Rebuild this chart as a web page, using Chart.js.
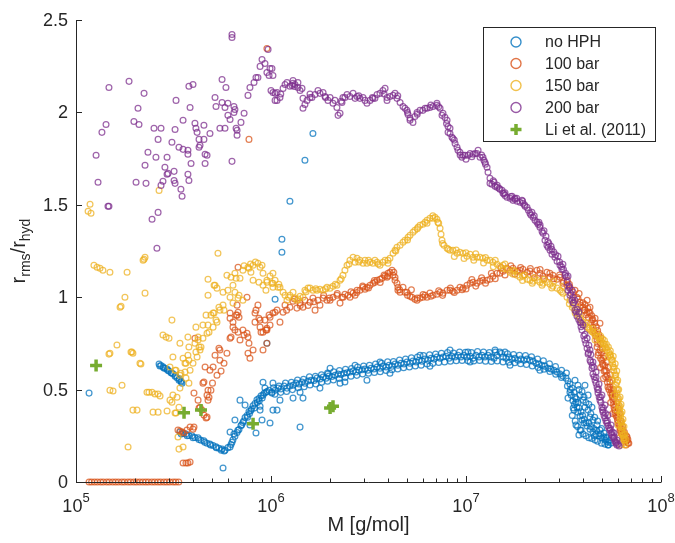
<!DOCTYPE html>
<html><head><meta charset="utf-8">
<script src="https://cdn.jsdelivr.net/npm/chart.js@4.4.1/dist/chart.umd.min.js"></script>
<style>html,body{margin:0;padding:0;background:#fff;}#wrap{width:675px;height:543px;}</style>
</head><body><div id="wrap"><canvas id="c" width="675" height="543"></canvas></div>
<script>
// ---------- DATA (x = log10 of M [g/mol], y = r_rms/r_hyd) ----------
const seriesNames = ['no HPH', '100 bar', '150 bar', '200 bar', 'Li et al. (2011)'];

const noHph = [
[5.067,0.481],
[5.426,0.638],[5.436,0.63],[5.446,0.624],[5.456,0.615],[5.467,0.612],[5.477,0.601],[5.487,0.593],[5.497,0.586],[5.508,0.572],[5.518,0.564],[5.528,0.55],[5.538,0.547],[5.544,0.534],
[5.43,0.628],[5.45,0.617],[5.47,0.605],[5.49,0.59],[5.51,0.577],[5.53,0.558],[5.54,0.541],
[5.533,0.271],[5.549,0.263],[5.564,0.26],[5.579,0.252],[5.595,0.25],[5.61,0.241],[5.626,0.239],[5.641,0.226],[5.656,0.223],[5.672,0.21],[5.687,0.206],[5.703,0.198],[5.718,0.19],[5.733,0.183],[5.749,0.179],[5.764,0.172],[5.779,0.186],[5.795,0.203],[5.805,0.229],[5.815,0.247],[5.826,0.268],[5.836,0.284],[5.846,0.305],[5.856,0.322],[5.867,0.349],[5.877,0.36],[5.887,0.381],[5.897,0.387],[5.908,0.413],[5.918,0.425],[5.928,0.445],[5.938,0.452],[5.949,0.467],
[5.54,0.26],[5.57,0.25],[5.6,0.24],[5.63,0.23],[5.66,0.215],[5.69,0.2],[5.72,0.185],[5.745,0.172],[5.76,0.168],
[5.79,0.19],[5.8,0.215],[5.81,0.26],[5.83,0.28],[5.85,0.31],[5.86,0.33],[5.88,0.35],[5.89,0.37],[5.9,0.395],[5.915,0.4],[5.93,0.43],[5.94,0.44],[5.955,0.455],[5.965,0.48],[5.98,0.49],
[5.754,0.076],[5.979,0.751],[6.005,0.486],[6.149,0.297],[5.995,0.319],[5.841,0.443],[5.923,0.265],[6.021,0.989],[6.215,1.886],[6.174,1.741],[6.097,1.519],[6.056,1.314],[6.056,1.243],
[5.944,0.389],[5.867,0.416],[5.815,0.335],[5.892,0.308],[5.79,0.27],[5.954,0.335],[5.969,0.508],[6.046,0.443],[6.031,0.389],[5.959,0.54],[6.01,0.535],[5.944,0.41],[6.01,0.389],[6.113,0.454],[6.164,0.454],[6.354,0.535],[6.492,0.551],[6.292,0.584],
[5.959,0.47],[5.974,0.486],[5.99,0.497],[6.005,0.481],[6.021,0.497],[6.036,0.508],[6.051,0.503],[6.067,0.519],[6.082,0.508],[6.097,0.519],[6.113,0.524],[6.128,0.535],[6.144,0.53],[6.159,0.541],[6.174,0.535],[6.19,0.546],[6.205,0.551],[6.221,0.549],[6.236,0.562],[6.251,0.557],[6.267,0.568],[6.282,0.562],[6.297,0.573],[6.313,0.571],[6.328,0.578],[6.344,0.584],[6.359,0.582],[6.374,0.589],[6.39,0.591],[6.405,0.595],[6.421,0.6],[6.436,0.595],[6.451,0.605],[6.467,0.607],[6.482,0.611],[6.497,0.605],[6.513,0.616],[6.528,0.611],[6.544,0.622],[6.559,0.616],[6.574,0.627],[6.59,0.622],[6.605,0.632],[6.621,0.627],[6.636,0.638],[6.651,0.632],[6.667,0.643],[6.682,0.638],[6.697,0.649],[6.713,0.643],[6.728,0.654],[6.744,0.649],[6.759,0.659],[6.774,0.654],[6.79,0.665],[6.805,0.659],[6.821,0.67],[6.836,0.665],[6.851,0.676],[6.867,0.67],[6.882,0.676],[6.897,0.681],[6.913,0.67],[6.928,0.681],[6.944,0.676],[6.959,0.686],[6.974,0.676],[6.99,0.686],[7.005,0.676],[7.021,0.681],[7.036,0.67],[7.051,0.686],[7.067,0.676],[7.082,0.686],[7.097,0.676],[7.113,0.686],[7.128,0.676],[7.144,0.67],[7.159,0.686],[7.174,0.703],[7.19,0.676],[7.205,0.67],[7.221,0.676],[7.236,0.665],[7.251,0.67],[7.267,0.659],[7.282,0.665],[7.297,0.659],[7.313,0.665],[7.328,0.659],[7.344,0.654],[7.359,0.643],[7.374,0.638],[7.39,0.632],[7.405,0.627],[7.421,0.616],[7.436,0.611],[7.451,0.605],[7.467,0.595],[7.482,0.584],[7.497,0.573],[7.513,0.562],[7.523,0.546],[7.533,0.53],[7.544,0.508],[7.554,0.486],[7.559,0.459],[7.564,0.432],[7.569,0.405],[7.574,0.378],[7.585,0.357],[7.595,0.335],[7.605,0.319],[7.621,0.303],[7.636,0.286],[7.651,0.27],[7.667,0.259],[7.682,0.249],[7.697,0.238],[7.713,0.227],[7.728,0.216],[7.744,0.211],
[6.013,0.51],[6.041,0.52],[6.074,0.535],[6.105,0.54],[6.136,0.552],[6.167,0.556],[6.197,0.57],[6.228,0.572],[6.259,0.58],[6.29,0.59],[6.321,0.596],[6.351,0.603],[6.382,0.61],[6.413,0.614],[6.444,0.622],[6.475,0.628],[6.505,0.632],[6.536,0.638],[6.567,0.642],[6.598,0.65],[6.628,0.652],[6.659,0.66],[6.69,0.665],[6.72,0.672],[6.751,0.676],[6.782,0.684],[6.813,0.688],[6.844,0.692],[6.874,0.697],[6.905,0.7],[6.936,0.698],[6.967,0.704],[6.997,0.702],[7.028,0.7],[7.059,0.706],[7.09,0.703],[7.12,0.7],[7.151,0.703],[7.182,0.697],[7.213,0.694],[7.244,0.69],[7.274,0.686],[7.305,0.684],[7.336,0.678],[7.367,0.665],[7.397,0.656],[7.428,0.64],[7.459,0.625],[7.49,0.605],[7.515,0.59],
[6.02,0.475],[6.05,0.485],[6.08,0.49],[6.11,0.5],[6.14,0.51],[6.17,0.515],[6.2,0.525],[6.23,0.53],[6.26,0.54],[6.29,0.545],[6.32,0.552],[6.35,0.56],[6.38,0.565],[6.41,0.572],[6.44,0.577],[6.47,0.584],[6.5,0.588],[6.53,0.592],[6.56,0.597],[6.59,0.603],[6.62,0.607],[6.65,0.612],[6.68,0.618],[6.71,0.622],[6.74,0.628],[6.77,0.632],[6.8,0.638],[6.83,0.642],[6.86,0.647],[6.89,0.65],[6.92,0.654],[6.95,0.656],[6.98,0.658],[7.01,0.656],[7.04,0.655],[7.07,0.658],[7.1,0.654],[7.13,0.652],[7.16,0.655],[7.19,0.65],[7.22,0.648],[7.25,0.645],[7.28,0.64],[7.31,0.636],[7.34,0.628],[7.37,0.62],[7.4,0.61],[7.43,0.598],[7.46,0.583],[7.49,0.566],
[7.559,0.551],[7.574,0.524],[7.585,0.47],[7.6,0.443],[7.61,0.405],[7.626,0.389],[7.636,0.351],[7.61,0.524],[7.646,0.405],[7.651,0.335],[7.672,0.308],[7.687,0.281],[7.708,0.265],[7.718,0.243],[7.59,0.281],[7.564,0.308],[7.579,0.254],[7.662,0.227],[7.728,0.2],[7.533,0.486],[7.554,0.389],[7.523,0.454],[7.626,0.47],
[7.52,0.52],[7.535,0.5],[7.54,0.47],[7.548,0.44],[7.556,0.42],[7.566,0.45],[7.575,0.43],[7.58,0.4],[7.59,0.38],[7.598,0.36],[7.606,0.34],[7.615,0.32],[7.63,0.32],[7.64,0.3],[7.655,0.29],[7.67,0.28],[7.69,0.26],[7.705,0.245],[7.72,0.235],[7.735,0.225],[7.545,0.36],[7.56,0.33],[7.572,0.3],[7.585,0.28],[7.6,0.26],[7.615,0.25],[7.63,0.24],[7.645,0.235],[7.66,0.25],[7.675,0.22],[7.695,0.21],[7.712,0.205],[7.55,0.4],[7.58,0.5],[7.595,0.49],[7.605,0.46],[7.615,0.43],[7.63,0.42],[7.64,0.37],[7.66,0.35],[7.675,0.33],[7.695,0.29],[7.73,0.2],
[6.303,0.616],[6.431,0.632],[6.559,0.649],[6.764,0.686],[6.918,0.714],[7.01,0.703],[7.149,0.714],[7.2,0.703],
[6.149,0.486],[6.251,0.508],[6.379,0.541],[6.61,0.589],[6.815,0.627],[7.021,0.649],[7.226,0.632],[7.379,0.605]
];

const bar100 = [
[5.067,0],[5.08,0],[5.095,0],[5.11,0],[5.126,0],[5.14,0],[5.157,0],[5.171,0],[5.188,0],[5.203,0],[5.218,0],[5.235,0],[5.249,0],[5.266,0],[5.28,0],[5.297,0],[5.311,0],[5.327,0],[5.343,0],[5.358,0],[5.372,0],[5.389,0],[5.404,0],[5.42,0],[5.434,0],[5.451,0],[5.466,0],[5.481,0],[5.498,0],[5.512,0],[5.527,0],
[5.549,0.103],[5.564,0.103],[5.574,0.103],[5.585,0.108],
[5.523,0.281],[5.533,0.276],[5.544,0.27],[5.554,0.265],
[5.6,0.286],[5.605,0.297],[5.631,0.4],[5.646,0.389],[5.656,0.362],[5.667,0.346],[5.605,0.481],[5.651,0.535],[5.677,0.497],[5.682,0.459],[5.677,0.443],[5.692,0.497],[5.636,0.405],[5.672,0.351],[5.672,0.47],[5.656,0.541],[5.687,0.605],[5.662,0.622],[5.703,0.622],[5.723,0.578],[5.738,0.659],[5.774,0.697],[5.738,0.714],[5.79,0.778],[5.815,0.822],[5.826,0.903],[5.805,0.865],[5.841,0.768],[5.856,0.822],[5.877,0.805],[5.882,0.697],[5.892,0.67],[5.908,0.714],[5.918,0.865],[5.918,0.914],[5.944,0.876],[5.959,0.811],[5.979,0.832],[5.995,0.849],[6.01,0.914],[6.031,0.93],[5.979,0.751],[5.959,0.714],[5.79,0.914],[5.831,0.919],[5.826,0.957],[5.877,1.0],[5.569,0.281],[5.585,0.297],[5.626,0.443],[5.831,1.162],[5.887,1.854],[5.979,2.346],
[5.79,0.886],[5.821,0.903],[5.836,0.892],[5.805,0.838],[5.831,0.811],[5.862,0.795],[5.882,0.784],[5.795,0.784],[5.933,0.957],[5.923,0.93],[5.938,0.886],[5.974,0.822],[5.949,0.811],[5.99,0.903],[5.887,0.751],[5.733,0.724],[5.61,0.778],[5.713,0.686],[5.744,0.6],[5.759,0.643],[5.7,0.535],
[5.944,0.838],[5.969,0.876],[5.979,0.822],[5.995,0.892],[6.021,0.919],[6.046,0.865],[6.062,0.919],[6.072,0.957],[6.097,0.946],[6.113,0.978],[6.133,0.941],[6.149,0.968],[6.164,0.946],[6.174,0.984],[6.2,0.973],[6.215,0.995],[6.226,0.93],[6.241,0.984],[6.251,0.957],[6.267,0.995],[6.287,0.984],[6.303,0.984],[6.318,1.0],[6.338,1.011],[6.354,0.968],[6.364,1.0],[6.379,1.016],[6.395,1.011],[6.405,1.0],[6.421,1.022],[6.431,1.011],[6.441,1.038],[6.456,1.038],[6.472,1.054],[6.482,1.043],[6.492,1.054],[6.508,1.065],[6.523,1.076],[6.533,1.081],[6.544,1.092],[6.559,1.097],[6.569,1.103],[6.585,1.114],[6.595,1.108],[6.6,1.13],[6.61,1.135],[6.621,1.146],[6.626,1.119],[6.636,1.108],[6.636,1.092],[6.646,1.076],[6.651,1.054],[6.651,1.038],[6.662,1.027],[6.677,1.054],[6.687,1.027],[6.697,1.027],[6.713,1.005],[6.723,1.0],[6.738,0.989],[6.749,0.984],[6.764,0.995],[6.779,1.0],[6.79,1.011],[6.8,1.0],[6.815,1.022],[6.831,1.011],[6.851,1.016],[6.867,1.027],[6.882,1.022],[6.903,1.038],[6.918,1.038],[6.933,1.032],[6.954,1.038],[6.969,1.054],[6.985,1.049],[7.005,1.065],[7.021,1.076],[7.036,1.081],[7.056,1.076],[7.072,1.086],[7.087,1.092],[7.108,1.092],[7.123,1.097],[7.138,1.114],[7.159,1.13],[7.174,1.13],[7.19,1.141],[7.21,1.157],[7.226,1.146],[7.241,1.157],[7.262,1.141],[7.277,1.146],[7.292,1.151],[7.313,1.135],[7.328,1.141],[7.344,1.124],[7.364,1.146],[7.379,1.13],[7.395,1.114],[7.415,1.135],[7.431,1.108],[7.446,1.119],[7.467,1.097],[7.482,1.108],[7.497,1.076],[7.518,1.065],[7.533,1.054],[7.549,1.027],[7.559,1.038],[7.569,1.0],[7.585,0.973],[7.6,0.946],[7.61,0.93],[7.621,0.914],[7.636,0.914],[7.646,0.876],[7.651,0.838],[7.662,0.805],[7.672,0.768],[7.672,0.73],[7.677,0.686],[7.687,0.714],[7.697,0.659],[7.703,0.632],[7.713,0.605],[7.723,0.578],[7.728,0.514],[7.738,0.514],[7.749,0.47],[7.754,0.443],[7.759,0.405],[7.764,0.373],[7.774,0.351],[7.779,0.319],[7.79,0.292],[7.795,0.265],[7.805,0.243],[7.815,0.222],[7.826,0.243],[7.831,0.211],[7.821,0.2],
[7.636,0.946],[7.662,0.886],[7.687,0.859],[7.621,0.984],[7.705,0.56],[7.69,0.62],[7.742,0.43],[7.752,0.37],
[7.575,0.99],[7.59,0.955],[7.605,0.93],[7.615,0.905],[7.628,0.89],[7.64,0.86],[7.655,0.82],[7.665,0.79],[7.675,0.75],[7.68,0.7],[7.69,0.67],[7.7,0.64],[7.708,0.6],[7.716,0.57],[7.725,0.54],[7.733,0.5],[7.742,0.48],[7.75,0.46],[7.757,0.42],[7.763,0.39],[7.77,0.36],[7.777,0.335],[7.785,0.31],[7.79,0.28],[7.8,0.26],[7.81,0.235],[7.82,0.22],[7.83,0.23],[7.835,0.21],
[7.6,0.97],[7.625,0.94],[7.645,0.9],[7.66,0.86],[7.675,0.82],[7.69,0.78],[7.7,0.72],[7.71,0.68],[7.72,0.65],[7.73,0.62],[7.74,0.58],[7.748,0.55],[7.756,0.5],[7.765,0.47],[7.773,0.43],[7.78,0.4],[7.786,0.37],[7.795,0.33],[7.803,0.3],[7.812,0.27],[7.822,0.25],
[7.58,1.02],[7.61,0.96],[7.63,0.92],[7.65,0.88],[7.668,0.84],[7.68,0.8],[7.69,0.75],[7.695,0.7],[7.705,0.67],[7.712,0.63],[7.72,0.6],[7.73,0.56],[7.738,0.54],[7.745,0.5],[7.752,0.48],[7.76,0.45],[7.768,0.41],[7.775,0.38],[7.782,0.35],[7.79,0.32],[7.798,0.29],[7.805,0.27],[7.815,0.245],[7.825,0.225],
[7.0,1.045],[7.05,1.06],[7.1,1.075],[7.15,1.1],[7.2,1.12],[7.25,1.125],[7.3,1.12],[7.35,1.105],[7.4,1.1],[7.45,1.1],[7.5,1.085],[7.53,1.07],
[7.03,1.095],[7.08,1.105],[7.13,1.13],[7.18,1.16],[7.23,1.17],[7.28,1.16],[7.33,1.155],[7.38,1.15],[7.43,1.13],[7.48,1.12],[7.52,1.09],
[6.08,0.93],[6.15,0.955],[6.22,0.975],[6.3,0.995],[6.37,1.0],[6.44,1.025],[6.5,1.05],[6.56,1.08],[6.6,1.115],[6.66,1.04],[6.7,1.01],[6.75,0.995],[6.82,1.005],[6.88,1.01],[6.94,1.025],[6.98,1.04],[6.12,0.99],[6.19,0.955],[6.27,1.01],[6.34,1.02],[6.41,1.03],[6.47,1.06],[6.53,1.09],[6.58,1.12],[6.63,1.135],[6.72,1.04],[6.78,1.015],[6.86,1.035],[6.92,1.05]
];

const bar150 = [
[5.072,1.503],[5.062,1.465],[5.077,1.454],[5.426,1.578],[5.728,1.238],[5.354,1.216],[5.344,1.2],[5.349,1.205],[5.092,1.173],[5.108,1.162],[5.123,1.157],[5.138,1.146],[5.174,1.135],[5.262,1.135],[5.226,0.946],[5.251,1.0],[5.354,1.022],[5.21,0.741],[5.174,0.697],[5.328,0.643],[5.287,0.703],[5.292,0.697],[5.174,0.497],[5.19,0.492],[5.236,0.524],[5.364,0.486],[5.374,0.486],[5.39,0.486],[5.405,0.476],[5.421,0.476],[5.431,0.465],[5.292,0.389],[5.313,0.389],[5.395,0.378],[5.421,0.378],[5.267,0.189],
[5.492,0.876],[5.446,0.795],[5.462,0.784],[5.477,0.778],[5.497,0.676],[5.482,0.622],[5.508,0.605],[5.497,0.47],[5.492,0.432],[5.482,0.443],[5.508,0.373],[5.528,0.405],[5.513,0.373],[5.518,0.459],[5.533,0.508],[5.533,0.578],[5.559,0.595],[5.549,0.67],[5.574,0.686],[5.533,0.751],[5.559,0.643],[5.585,0.605],[5.6,0.643],[5.621,0.676],[5.636,0.714],[5.61,0.751],[5.626,0.784],[5.651,0.778],[5.672,0.805],[5.677,0.849],[5.703,0.838],[5.723,0.865],[5.677,1.011],[5.703,0.914],[5.738,0.93],[5.754,0.957],[5.79,1.0],[5.815,1.027],[5.805,0.968],[5.713,1.065],[5.723,1.049],[5.774,1.119],[5.815,1.13],[5.841,1.103],[5.856,1.146],[5.882,1.162],[5.908,1.173],[5.933,1.184],[5.954,1.173],[5.959,1.13],[5.979,1.092],[6.005,1.076],[6.01,1.13],[5.549,0.189],[5.528,0.178],[5.467,0.384],
[5.677,1.097],[5.708,1.065],[5.754,1.027],[5.779,1.038],[5.795,1.108],[5.821,1.103],[5.805,1.065],[5.836,1.011],[5.831,0.995],[5.856,0.984],[5.887,1.157],[5.897,1.135],[5.908,1.092],[5.938,1.081],[5.959,1.065],[5.974,1.038],[6.01,1.054],[5.733,0.946],[5.759,0.93],[5.708,0.914],[5.692,0.903],[5.667,0.903],[5.718,0.876],[5.651,0.849],[5.682,0.811],[5.615,0.838],[5.574,0.784],[5.626,0.768],[5.641,0.73],[5.579,0.73],[5.231,0.951],[5.169,0.692],[5.282,0.703],[5.333,0.638],[5.513,0.605],[5.538,0.589],[5.564,0.562],[5.579,0.535],[5.523,0.243],[5.564,0.643],[5.579,0.659],[5.615,0.703],[5.631,0.73],[5.862,1.17],[5.92,1.19],[5.895,1.18],
[5.944,1.162],[5.979,1.081],[5.995,1.114],[6.01,1.076],[6.021,1.092],[6.036,1.054],[6.046,1.054],[6.062,1.027],[6.072,1.011],[6.082,0.984],[6.097,1.011],[6.113,1.027],[6.123,0.995],[6.133,0.984],[6.149,1.005],[6.164,1.0],[6.174,1.038],[6.19,1.049],[6.2,1.049],[6.215,1.038],[6.236,1.038],[6.251,1.043],[6.267,1.038],[6.287,1.054],[6.303,1.049],[6.318,1.059],[6.338,1.065],[6.354,1.092],[6.369,1.119],[6.379,1.146],[6.39,1.173],[6.405,1.2],[6.421,1.216],[6.431,1.189],[6.441,1.211],[6.456,1.2],[6.472,1.184],[6.482,1.2],[6.492,1.184],[6.508,1.189],[6.523,1.184],[6.533,1.2],[6.544,1.189],[6.559,1.173],[6.574,1.189],[6.585,1.2],[6.6,1.184],[6.61,1.211],[6.626,1.238],[6.636,1.254],[6.646,1.27],[6.662,1.281],[6.677,1.297],[6.687,1.308],[6.703,1.324],[6.713,1.335],[6.728,1.351],[6.738,1.362],[6.754,1.378],[6.764,1.389],[6.779,1.395],[6.79,1.405],[6.8,1.416],[6.815,1.427],[6.831,1.427],[6.841,1.432],[6.851,1.422],[6.856,1.405],[6.867,1.373],[6.872,1.341],[6.877,1.308],[6.887,1.281],[6.903,1.265],[6.918,1.254],[6.933,1.254],[6.954,1.238],[6.969,1.243],[6.985,1.238],[7.005,1.222],[7.021,1.232],[7.036,1.216],[7.056,1.216],[7.072,1.216],[7.087,1.211],[7.108,1.2],[7.123,1.2],[7.138,1.189],[7.159,1.178],[7.174,1.168],[7.19,1.173],[7.21,1.151],[7.226,1.135],[7.241,1.146],[7.262,1.119],[7.277,1.108],[7.292,1.114],[7.313,1.097],[7.328,1.092],[7.344,1.086],[7.364,1.092],[7.379,1.081],[7.395,1.076],[7.415,1.081],[7.431,1.07],[7.446,1.059],[7.467,1.049],[7.482,1.038],[7.497,1.022],[7.518,1.0],[7.533,0.984],[7.549,0.957],[7.559,0.93],[7.569,0.941],[7.585,0.886],[7.6,0.865],[7.621,0.838],[7.636,0.822],[7.651,0.811],[7.672,0.789],[7.687,0.768],[7.703,0.751],[7.713,0.73],[7.723,0.714],[7.738,0.686],[7.749,0.659],[7.754,0.622],[7.764,0.578],[7.769,0.524],[7.774,0.481],[7.779,0.443],[7.785,0.405],[7.79,0.373],[7.79,0.335],[7.795,0.297],[7.8,0.265],[7.805,0.238],[7.81,0.211],[7.795,0.2],
[7.749,0.551],[7.759,0.47],[7.774,0.389],[7.779,0.308],[7.785,0.238],[7.728,0.676],[7.703,0.724],[7.662,0.768],
[7.53,0.965],[7.545,0.945],[7.56,0.915],[7.575,0.9],[7.59,0.875],[7.61,0.85],[7.63,0.83],[7.645,0.815],[7.66,0.8],[7.68,0.78],[7.695,0.76],[7.71,0.745],[7.72,0.725],[7.733,0.7],[7.743,0.675],[7.752,0.64],[7.758,0.6],[7.766,0.56],[7.771,0.505],[7.776,0.46],[7.782,0.42],[7.787,0.39],[7.792,0.355],[7.795,0.32],[7.8,0.28],[7.806,0.25],[7.812,0.225],[7.815,0.2],
[7.7,0.775],[7.72,0.745],[7.74,0.71],[7.755,0.68],[7.765,0.64],[7.773,0.6],[7.778,0.55],[7.783,0.5],[7.79,0.46],[7.795,0.42],[7.8,0.38],[7.805,0.34],[7.81,0.3],[7.815,0.26],[7.82,0.23],
[7.74,0.69],[7.75,0.66],[7.76,0.62],[7.768,0.58],[7.774,0.54],[7.778,0.5],[7.784,0.45],[7.79,0.41],[7.794,0.37],[7.798,0.33],[7.802,0.3],[7.808,0.26],[7.812,0.24],[7.58,0.91],[7.62,0.86],[7.65,0.83],[7.67,0.81],[7.69,0.79],[7.71,0.765],[7.73,0.73],
[6.95,1.255],[7.0,1.24],[7.05,1.235],[7.1,1.215],[7.15,1.2],[7.2,1.18],[7.25,1.14],[7.3,1.12],[7.35,1.105],[7.4,1.095],[7.45,1.085],[7.5,1.06],
[6.94,1.22],[6.99,1.21],[7.04,1.2],[7.09,1.185],[7.14,1.165],[7.19,1.155],[7.24,1.125],[7.29,1.09],[7.34,1.075],[7.39,1.065],[7.44,1.05],[7.49,1.03],
[6.04,1.07],[6.09,1.0],[6.14,0.99],[6.18,1.03],[6.23,1.045],[6.28,1.045],[6.33,1.07],[6.36,1.1],[6.4,1.18],[6.45,1.19],[6.5,1.2],[6.55,1.18],[6.6,1.2],[6.64,1.25],[6.7,1.31],[6.75,1.37],[6.8,1.4],[6.83,1.44],[6.86,1.4],[6.88,1.29],[6.91,1.26]
];

const bar200 = [
[5.169,2.135],[5.272,2.168],[5.349,2.103],[5.318,2.022],[5.154,1.935],[5.133,1.892],[5.103,1.768],[5.113,1.622],[5.164,1.492],[5.169,1.492],[5.297,1.951],[5.323,1.935],[5.4,1.914],[5.436,1.914],[5.421,1.854],[5.508,1.908],[5.513,2.065],[5.585,2.027],[5.579,2.141],[5.6,2.151],[5.549,1.957],[5.369,1.784],[5.41,1.757],[5.467,1.757],[5.354,1.714],[5.308,1.622],[5.359,1.616],[5.492,1.838],[5.528,1.811],[5.549,1.8],[5.574,1.795],[5.574,1.773],[5.456,1.703],[5.503,1.681],[5.467,1.665],[5.472,1.67],[5.446,1.627],[5.436,1.605],[5.503,1.632],[5.508,1.616],[5.538,1.584],[5.544,1.546],[5.574,1.665],[5.579,1.632],[5.59,1.724],[5.61,1.941],[5.615,1.914],[5.621,1.892],[5.656,1.93],[5.687,1.886],[5.631,1.854],[5.656,1.854],[5.631,1.811],[5.636,1.822],[5.662,1.773],[5.672,1.768],[5.662,1.724],[5.713,2.081],[5.749,2.178],[5.769,2.135],[5.718,2.032],[5.749,2.054],[5.764,2.027],[5.779,2.049],[5.81,2.032],[5.815,2.016],[5.779,1.984],[5.79,1.962],[5.81,2.0],[5.846,1.946],[5.862,1.995],[5.738,1.914],[5.764,1.914],[5.821,1.914],[5.826,1.903],[5.826,1.876],[5.8,1.735],[5.8,2.422],[5.8,2.405],[5.415,1.265],[5.39,1.422],[5.421,1.459],[5.882,2.092],[5.892,2.135],[5.913,2.162],[5.923,2.189],[5.933,2.189],
[5.944,2.249],[5.954,2.286],[5.969,2.265],[5.979,2.216],[5.985,2.341],[5.99,2.2],[5.995,2.238],[6.0,2.119],[6.005,2.238],[6.01,2.2],[6.01,2.108],[6.021,2.065],[6.021,2.103],[6.031,2.108],[6.031,2.065],[6.046,2.081],[6.062,2.13],[6.072,2.151],[6.082,2.162],[6.097,2.141],[6.108,2.146],[6.113,2.173],[6.113,2.157],[6.123,2.151],[6.138,2.162],[6.138,2.135],[6.149,2.119],[6.159,2.13],[6.164,2.076],[6.174,2.043],[6.164,2.022],[6.185,2.065],[6.2,2.081],[6.21,2.081],[6.226,2.097],[6.241,2.119],[6.251,2.103],[6.267,2.108],[6.277,2.086],[6.292,2.065],[6.303,2.081],[6.318,2.049],[6.328,2.065],[6.338,2.027],[6.344,1.984],[6.354,1.995],[6.364,2.054],[6.369,2.081],[6.379,2.081],[6.39,2.097],[6.405,2.086],[6.421,2.103],[6.431,2.076],[6.441,2.086],[6.456,2.076],[6.472,2.081],[6.482,2.065],[6.492,2.049],[6.508,2.065],[6.523,2.076],[6.533,2.076],[6.544,2.097],[6.559,2.103],[6.574,2.119],[6.585,2.13],[6.595,2.081],[6.595,2.065],[6.61,2.086],[6.626,2.092],[6.636,2.103],[6.646,2.076],[6.662,2.054],[6.677,2.032],[6.687,2.022],[6.697,2.011],[6.703,1.989],[6.713,1.968],[6.713,1.957],[6.728,1.946],[6.738,1.978],[6.749,2.0],[6.764,2.011],[6.779,2.011],[6.79,2.022],[6.8,2.022],[6.815,2.027],[6.831,2.032],[6.851,2.038],[6.851,2.049],[6.867,2.022],[6.877,1.984],[6.882,1.995],[6.892,1.973],[6.903,1.957],[6.908,1.924],[6.908,1.892],[6.918,1.886],[6.918,1.914],[6.928,1.865],[6.933,1.859],[6.944,1.832],[6.954,1.811],[6.969,1.784],[6.979,1.757],[6.985,1.768],[6.995,1.768],[7.01,1.768],[7.021,1.778],[7.036,1.773],[7.046,1.778],[7.056,1.778],[7.072,1.757],[7.087,1.757],[7.097,1.73],[7.108,1.703],[7.113,1.676],[7.123,1.643],[7.123,1.616],[7.133,1.611],[7.149,1.6],[7.159,1.595],[7.174,1.584],[7.19,1.562],[7.2,1.551],[7.21,1.541],[7.226,1.535],[7.241,1.524],[7.251,1.535],[7.262,1.519],[7.277,1.514],[7.292,1.508],[7.303,1.492],[7.313,1.486],[7.328,1.454],[7.344,1.432],[7.354,1.416],[7.364,1.405],[7.379,1.378],[7.395,1.346],[7.405,1.308],[7.415,1.281],[7.421,1.27],[7.431,1.254],[7.441,1.232],[7.456,1.216],[7.467,1.195],[7.482,1.173],[7.492,1.151],[7.508,1.119],[7.518,1.081],[7.523,1.038],[7.533,1.011],[7.544,0.984],[7.549,0.968],[7.559,0.93],[7.569,0.897],[7.585,0.865],[7.595,0.822],[7.61,0.768],[7.621,0.724],[7.626,0.692],[7.636,0.659],[7.646,0.616],[7.651,0.584],[7.662,0.551],[7.672,0.514],[7.677,0.481],[7.687,0.443],[7.697,0.405],[7.703,0.378],[7.713,0.346],[7.723,0.319],[7.733,0.292],[7.744,0.265],[7.754,0.243],[7.764,0.222],[7.774,0.2],
[7.144,1.622],[7.185,1.578],[7.236,1.546],[7.287,1.524],[7.338,1.459],[7.374,1.405],[7.41,1.33],[7.436,1.276],[7.472,1.222],[7.497,1.178],[7.523,1.114],[7.544,1.038],[7.559,0.984],[7.579,0.919],[7.6,0.849],[7.621,0.778],[7.636,0.714],[7.651,0.649],[7.667,0.595],[7.682,0.53],[7.697,0.47],[7.713,0.416],[7.728,0.362],[7.744,0.308],[7.759,0.265],[7.774,0.227],[7.785,0.195],
[7.14,1.63],[7.17,1.59],[7.2,1.565],[7.23,1.545],[7.26,1.535],[7.29,1.52],[7.32,1.47],[7.35,1.44],[7.38,1.39],[7.4,1.36],[7.42,1.3],[7.44,1.26],[7.46,1.23],[7.48,1.19],[7.5,1.15],[7.515,1.11],[7.528,1.06],[7.538,1.02],[7.552,0.97],[7.565,0.92],[7.578,0.88],[7.59,0.84],[7.604,0.79],[7.615,0.75],[7.628,0.7],[7.64,0.65],[7.648,0.63],[7.657,0.57],[7.667,0.535],[7.675,0.5],[7.683,0.46],[7.692,0.43],[7.7,0.39],[7.708,0.36],[7.718,0.33],[7.728,0.305],[7.738,0.28],[7.749,0.255],[7.758,0.235],[7.768,0.21],[7.78,0.205],
[7.16,1.605],[7.195,1.56],[7.25,1.53],[7.3,1.5],[7.333,1.445],[7.37,1.395],[7.39,1.355],[7.425,1.29],[7.45,1.245],[7.49,1.165],[7.51,1.13],[7.53,1.05],[7.55,1.0],[7.57,0.935],[7.59,0.86],[7.61,0.8],[7.63,0.74],[7.64,0.69],[7.656,0.62],[7.667,0.565],[7.68,0.5],[7.69,0.46],[7.705,0.4],[7.715,0.37],[7.725,0.33],[7.74,0.29],[7.75,0.27],[7.76,0.245],[7.77,0.215],
[6.959,1.795],[7.0,1.746],[7.062,1.795],[7.092,1.741],
[6.05,2.1],[6.12,2.14],[6.2,2.1],[6.28,2.08],[6.36,2.06],[6.45,2.09],[6.52,2.08],[6.58,2.1],[6.65,2.09],[6.7,2.0],[6.75,1.99],[6.82,2.04],[6.86,2.03],[6.9,1.94],[6.94,1.85],[6.97,1.77],[7.03,1.76],[7.08,1.77],[7.1,1.72]
];

const liEtAl = [[5.103,0.63],[5.554,0.375],[5.641,0.39],[5.908,0.315],[6.303,0.40],[6.318,0.41]];

const xMajorTicks = [1e5, 1e6, 1e7, 1e8];
const xTickExponents = ['5', '6', '7', '8'];
const xMinorTicks = [2e5,3e5,4e5,5e5,6e5,7e5,8e5,9e5,2e6,3e6,4e6,5e6,6e6,7e6,8e6,9e6,2e7,3e7,4e7,5e7,6e7,7e7,8e7,9e7];
const yTicks = [0, 0.5, 1, 1.5, 2, 2.5];
const yTickLabels = ['0', '0.5', '1', '1.5', '2', '2.5'];

// ---------- STYLE ----------
const FONT = '"Liberation Sans", Arial, Helvetica, sans-serif';
const TXT = '#262626';
const colors = ['0,114,189', '217,83,25', '237,177,32', '126,47,142', '119,172,48'];
const alpha = 0.74;

function toPts(arr) { return arr.map(p => ({ x: Math.pow(10, p[0]), y: p[1] })); }

const seriesData = [noHph, bar100, bar150, bar200];
const datasets = seriesData.map((arr, i) => ({
  label: seriesNames[i],
  data: toPts(arr),
  pointStyle: 'circle',
  pointRadius: 2.9,
  pointBorderWidth: 1.25,
  pointBorderColor: 'rgba(' + colors[i] + ',' + alpha + ')',
  pointBackgroundColor: 'rgba(0,0,0,0)',
  showLine: false,
  clip: false,
  order: 4 - i + 1
}));
datasets.push({
  label: seriesNames[4],
  data: toPts(liEtAl),
  pointStyle: 'cross',
  pointRadius: 6,
  pointBorderWidth: 3.5,
  pointBorderColor: 'rgb(' + colors[4] + ')',
  showLine: false,
  clip: false,
  order: 0
});

const matlabAxes = {
  id: 'matlabAxes',
  afterDraw(chart) {
    const ctx = chart.ctx, xs = chart.scales.x, ys = chart.scales.y, a = chart.chartArea;
    ctx.save();
    ctx.strokeStyle = TXT; ctx.lineWidth = 1;
    ctx.beginPath();
    ctx.moveTo(a.left, a.bottom + 0.5); ctx.lineTo(a.right + 0.5, a.bottom + 0.5);
    ctx.moveTo(a.left + 0.5, a.top); ctx.lineTo(a.left + 0.5, a.bottom + 0.5);
    xMajorTicks.forEach(v => { const px = Math.round(xs.getPixelForValue(v)) + 0.5; ctx.moveTo(px, a.bottom); ctx.lineTo(px, a.bottom - 6); });
    xMinorTicks.forEach(v => { const px = Math.round(xs.getPixelForValue(v)) + 0.5; ctx.moveTo(px, a.bottom); ctx.lineTo(px, a.bottom - 3.5); });
    yTicks.forEach(v => { const py = Math.round(ys.getPixelForValue(v)) + 0.5; ctx.moveTo(a.left, py); ctx.lineTo(a.left + 6, py); });
    ctx.stroke();

    ctx.fillStyle = TXT;
    ctx.font = '18px ' + FONT; ctx.textAlign = 'right'; ctx.textBaseline = 'middle';
    yTicks.forEach((v, i) => ctx.fillText(yTickLabels[i], a.left - 8, ys.getPixelForValue(v) + 1));
    ctx.textAlign = 'left'; ctx.textBaseline = 'alphabetic';
    xMajorTicks.forEach((v, i) => {
      const px = xs.getPixelForValue(v);
      ctx.font = '18px ' + FONT; const wb = ctx.measureText('10').width;
      ctx.font = '13px ' + FONT; const we = ctx.measureText(xTickExponents[i]).width;
      const x0 = px - (wb + we) / 2;
      ctx.font = '18px ' + FONT; ctx.fillText('10', x0, a.bottom + 30);
      ctx.font = '13px ' + FONT; ctx.fillText(xTickExponents[i], x0 + wb, a.bottom + 20);
    });
    ctx.font = '20px ' + FONT; ctx.textAlign = 'center';
    ctx.fillText('M [g/mol]', (a.left + a.right) / 2, a.bottom + 49);
    const parts = [['r', 0], ['rms', 1], ['/r', 0], ['hyd', 1]];
    const fMain = '20px ' + FONT, fSub = '14px ' + FONT;
    let total = 0;
    parts.forEach(p => { ctx.font = p[1] ? fSub : fMain; total += ctx.measureText(p[0]).width; });
    ctx.translate(25, (a.top + a.bottom) / 2);
    ctx.rotate(-Math.PI / 2);
    ctx.textAlign = 'left';
    let cx = -total / 2;
    parts.forEach(p => { ctx.font = p[1] ? fSub : fMain; ctx.fillText(p[0], cx, p[1] ? 5 : 0); cx += ctx.measureText(p[0]).width; });
    ctx.restore();

    ctx.save();
    const lx = 483, ly = 27, lw = 172, lh = 114;
    ctx.fillStyle = '#fff'; ctx.fillRect(lx, ly, lw, lh);
    ctx.strokeStyle = TXT; ctx.lineWidth = 1; ctx.strokeRect(lx + 0.5, ly + 0.5, lw, lh);
    const rows = [42, 63.5, 85.5, 107.5, 129.5];
    ctx.font = '16px ' + FONT; ctx.textAlign = 'left'; ctx.textBaseline = 'middle';
    rows.forEach((yy, i) => {
      if (i < 4) {
        ctx.strokeStyle = 'rgba(' + colors[i] + ',0.8)'; ctx.lineWidth = 1.4;
        ctx.beginPath(); ctx.arc(516, yy, 5, 0, Math.PI * 2); ctx.stroke();
      } else {
        ctx.strokeStyle = 'rgb(' + colors[4] + ')'; ctx.lineWidth = 3.5;
        ctx.beginPath(); ctx.moveTo(510.5, yy); ctx.lineTo(521.5, yy); ctx.moveTo(516, yy - 5.5); ctx.lineTo(516, yy + 5.5); ctx.stroke();
      }
      ctx.fillStyle = TXT; ctx.fillText(seriesNames[i], 545, yy + 1);
    });
    ctx.restore();
  }
};

new Chart(document.getElementById('c'), {
  type: 'scatter',
  data: { datasets },
  options: {
    responsive: false, animation: false, devicePixelRatio: 1, events: [],
    layout: { padding: { top: 20, right: 14, left: 0, bottom: 0 } },
    plugins: { legend: { display: false }, tooltip: { enabled: false }, title: { display: false } },
    scales: {
      x: { type: 'logarithmic', min: 1e5, max: 1e8, ticks: { display: false }, grid: { display: false }, border: { display: false },
           afterFit: s => { s.height = 61; } },
      y: { type: 'linear', min: 0, max: 2.5, ticks: { display: false }, grid: { display: false }, border: { display: false },
           afterFit: s => { s.width = 76; } }
    }
  },
  plugins: [matlabAxes]
});
</script></body></html>
